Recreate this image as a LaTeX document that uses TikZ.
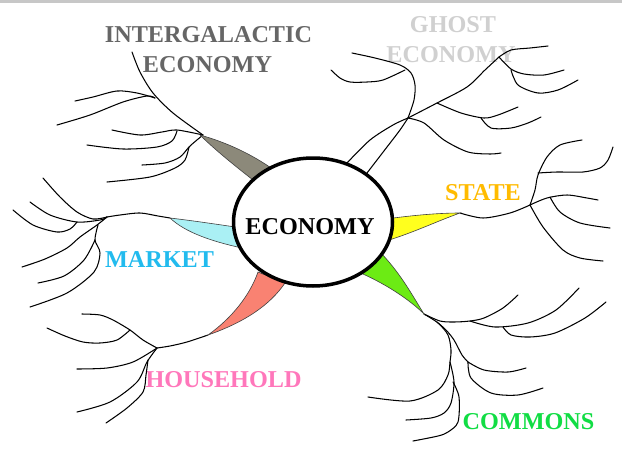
\documentclass[tikz,border=0pt]{standalone}
\usepackage{fontspec}
\setmainfont{Liberation Serif}
\usetikzlibrary{shapes.geometric}
\definecolor{igray}{HTML}{8C897A}
\definecolor{pcyan}{HTML}{AAF0F4}
\definecolor{psalmon}{HTML}{F98272}
\definecolor{pgreen}{HTML}{6CEB14}
\definecolor{pyellow}{HTML}{FFFF1E}
\definecolor{tinter}{HTML}{666666}
\definecolor{tghost}{HTML}{D0D0D0}
\definecolor{tstate}{HTML}{FFBB00}
\definecolor{tmarket}{HTML}{22BBEE}
\definecolor{thouse}{HTML}{FF77BB}
\definecolor{tcommons}{HTML}{11DD44}
\begin{document}
\begin{tikzpicture}[x=1pt,y=-1pt,
  br/.style={line width=1.05pt, line cap=round, line join=round},
  lbl/.style={font=\fontsize{24.2}{28}\selectfont\bfseries, inner sep=0pt, anchor=base},
  petal/.style={draw=black!75, line width=0.6pt}]
\useasboundingbox (0,0) rectangle (622,469);
\fill[white] (0,0) rectangle (622,469);
\fill[black!22] (0,0) rectangle (622,2.5);

% labels
\node[lbl, text=tinter] (ig1) at (208.5,42) {INTERGALACTIC};
\node[lbl, text=tinter] (ig2) at (207.5,72) {ECONOMY};
\node[lbl, text=tghost] (gh1) at (453,32) {GHOST};
\node[lbl, text=tghost] (gh2) at (451,62) {ECONOMY};
\node[lbl, text=tstate] (st) at (483,200) {STATE};
\node[lbl, text=tmarket] (mk) at (159.5,267) {MARKET};
\node[lbl, text=thouse] (hh) at (223.5,387) {HOUSEHOLD};
\node[lbl, text=tcommons] (cm) at (528.5,429) {COMMONS};

% junction coordinates
\coordinate (igT) at (200,135);
\coordinate (mkT) at (170,218);
\coordinate (hhT) at (208,335);
\coordinate (cmT) at (424,314);
\coordinate (stT) at (460,213);
\coordinate (ghJ) at (408,118);

% intergalactic branch
\draw[br] plot[smooth] coordinates {(132,52) (140,72) (153,93) (173,113) (203,135)};
\draw[br] plot[smooth] coordinates {(75,101) (93,97) (117,91) (137,93) (155,98)};
\draw[br] plot[smooth] coordinates {(57,125) (90,115) (123,102) (147,96) (155,98)};
\draw[br] plot[smooth] coordinates {(112,130) (140,135) (162,132) (177,130) (203,135)};
\draw[br] plot[smooth] coordinates {(87,145) (123,149) (157,147) (172,141) (177,131)};
\draw[br] plot[smooth] coordinates {(142,165) (165,163) (180,157) (190,146) (203,135)};
\draw[br] plot[smooth] coordinates {(107,182) (150,177) (175,168) (185,160) (189,147)};

% market branch
\draw[br] plot[smooth] coordinates {(mkT) (158,216) (140,213) (120,215) (107,217)};
\draw[br] plot[smooth] coordinates {(43,178) (60,197) (77,212) (93,219) (107,217)};
\draw[br] plot[smooth] coordinates {(30,202) (50,215) (77,222) (100,220) (107,217)};
\draw[br] plot[smooth] coordinates {(13,210) (33,225) (57,232) (70,229) (77,222)};
\draw[br] plot[smooth] coordinates {(107,217) (97,225) (80,237) (67,248) (45,259) (22,267)};
\draw[br] plot[smooth] coordinates {(98,225) (95,240) (100,253) (94,272) (67,293) (30,307)};
\draw[br] plot[smooth] coordinates {(95,240) (84,260) (64,276) (38,283)};

% household branch
\draw[br] plot[smooth] coordinates {(hhT) (187,342) (170,346) (157,348)};
\draw[br] plot[smooth] coordinates {(157,348) (143,340) (130,330) (113,320) (100,315) (82,314)};
\draw[br] plot[smooth] coordinates {(130,330) (117,340) (100,343) (83,342) (65,336) (47,328)};
\draw[br] plot[smooth] coordinates {(157,348) (133,362) (107,368) (77,369)};
\draw[br] plot[smooth] coordinates {(157,348) (147,362) (137,382) (110,402) (77,412)};
\draw[br] plot[smooth] coordinates {(148,360) (146,375) (143,392) (127,408) (106,423)};

% commons branch
\draw[br] plot[smooth] coordinates {(cmT) (440,321) (454,322) (470,321) (484,318) (503,308) (518,295)};
\draw[br] plot[smooth] coordinates {(470,321) (495,327) (528,323) (556,310) (579,288)};
\draw[br] plot[smooth] coordinates {(503,327) (511,335) (530,337) (555,333) (585,318) (606,302)};
\draw[br] plot[smooth] coordinates {(cmT) (438,323) (448,335) (451,350) (450,362) (448,375) (438,390) (410,401) (368,397)};
\draw[br] plot[smooth] coordinates {(450,362) (454,382) (451,403) (444,413) (431,418) (406,420)};
\draw[br] plot[smooth] coordinates {(453,382) (459,397) (458,422) (448,432) (438,436) (413,441)};
\draw[br] plot[smooth] coordinates {(437,322) (446,330) (454,340) (462,355) (468,362)};
\draw[br] plot[smooth] coordinates {(468,362) (484,370) (508,372) (526,368)};
\draw[br] plot[smooth] coordinates {(468,362) (471,378) (491,393) (518,395) (543,388)};

% state branch
\draw[br] plot[smooth] coordinates {(stT) (483,218) (510,213) (530,205)};
\draw[br] plot[smooth] coordinates {(530,205) (535,190) (538,175) (547,157) (560,145) (582,140)};
\draw[br] plot[smooth] coordinates {(538,173) (557,172) (583,172) (600,168) (608,160) (613,147)};
\draw[br] plot[smooth] coordinates {(530,205) (547,198) (567,195) (587,198) (598,200)};
\draw[br] plot[smooth] coordinates {(550,197) (560,212) (580,223) (610,228)};
\draw[br] plot[smooth] coordinates {(530,205) (543,227) (563,250) (580,258) (603,261)};

% ghost branch
\draw[br] plot[smooth] coordinates {(347,163) (370,140) (393,125) (ghJ)};
\draw[br] plot[smooth] coordinates {(367,173) (387,147) (400,130) (ghJ)};
\draw[br] plot[smooth] coordinates {(ghJ) (414,100) (415,85) (411,73) (400,65) (375,58) (352,53)};
\draw[br] plot[smooth] coordinates {(331,70) (340,78) (350,82) (367,82) (383,80) (405,70)};
\draw[br] plot[smooth] coordinates {(ghJ) (437,103) (467,87) (485,70) (499,57)};
\draw[br] plot[smooth] coordinates {(499,57) (511,50) (530,48) (548,46)};
\draw[br] plot[smooth] coordinates {(499,57) (511,69) (524,74) (544,75) (564,70)};
\draw[br] plot[smooth] coordinates {(511,70) (518,85) (538,93) (558,90) (578,80)};
\draw[br] plot[smooth] coordinates {(437,103) (461,113) (484,118) (498,115) (518,107)};
\draw[br] plot[smooth] coordinates {(481,118) (491,128) (511,128) (528,123) (541,117)};
\draw[br] plot[smooth] coordinates {(ghJ) (424,123) (444,140) (468,152) (490,154) (501,153)};

% petals
\filldraw[petal, fill=igray] (igT) .. controls (225,142) and (250,153) .. (274,170)
  -- (257,183) .. controls (240,170) and (215,150) .. (igT) -- cycle;
\filldraw[petal, fill=pcyan] (mkT) .. controls (195,221) and (215,224) .. (242,228)
  -- (242,248) .. controls (210,241) and (185,232) .. (mkT) -- cycle;
\filldraw[petal, fill=psalmon] (hhT) .. controls (232,318) and (250,295) .. (258,272)
  -- (285,283) .. controls (270,305) and (245,322) .. (hhT) -- cycle;
\filldraw[petal, fill=pgreen] (356,271) .. controls (385,283) and (410,300) .. (cmT)
  .. controls (412,295) and (400,272) .. (378,250) -- cycle;
\filldraw[petal, fill=pyellow] (386,219) .. controls (415,215) and (440,213) .. (stT)
  .. controls (435,222) and (415,232) .. (386,241) -- cycle;

% centre
\node[draw, line width=3.5pt, fill=white, ellipse, minimum width=159pt, minimum height=128pt, inner sep=0pt] (eco) at (313,222) {};
\node[lbl, text=black] (ecot) at (310,234) {ECONOMY};
\end{tikzpicture}
\end{document}
